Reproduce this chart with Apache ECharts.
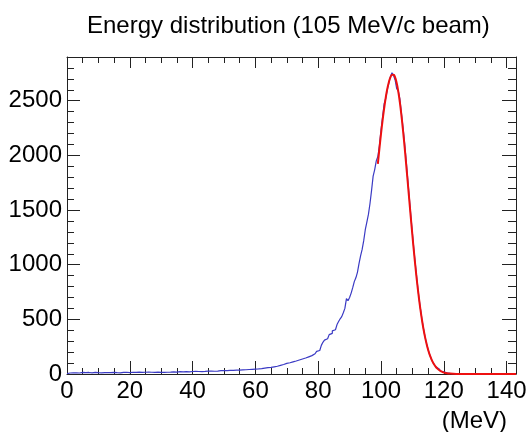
<!DOCTYPE html>
<html>
<head>
<meta charset="utf-8">
<script src="https://cdn.jsdelivr.net/npm/echarts@6/dist/echarts.min.js"></script>
<style>
html,body{margin:0;padding:0;background:#fff;}
#chart{width:531px;height:432px;}
</style>
</head>
<body>
<div id="chart"></div>
<script>
// Histogram: 0.5 MeV bins from 0 to 143 MeV
const xMin = 0;
const xMax = 143;
const binWidth = 0.5;
const counts = [
  // 0-10
  4, 9, 12, 10, 14, 11, 13, 9, 12, 15, 10, 13, 11, 14, 12, 10, 13, 15, 11, 12,
  // 10-20
  13, 11, 14, 12, 10, 13, 15, 12, 11, 14, 13, 12, 15, 11, 13, 14, 12, 16, 13, 12,
  // 20-30
  14, 16, 13, 15, 12, 17, 14, 15, 13, 16, 15, 17, 14, 16, 18, 15, 14, 17, 16, 15,
  // 30-40
  17, 15, 18, 16, 19, 17, 16, 20, 18, 17, 19, 21, 18, 20, 19, 22, 20, 19, 21, 23,
  // 40-50
  21, 24, 22, 23, 25, 22, 26, 24, 25, 27, 24, 26, 28, 25, 29, 27, 28, 30, 27, 31,
  // 50-60
  29, 31, 30, 33, 31, 34, 32, 35, 33, 36, 35, 38, 36, 39, 38, 41, 40, 43, 42, 45,
  // 60-70
  45, 47, 48, 50, 52, 54, 55, 58, 60, 61, 63, 66, 68, 71, 75, 79, 83, 87, 92, 97,
  // 70-80
  100, 103, 108, 111, 116, 119, 124, 128, 133, 137, 141, 146, 152, 157, 163, 168, 176, 185, 196, 207,
  // 80-90
  215, 230, 262, 290, 310, 322, 338, 360, 372, 395, 405, 420, 452, 480, 505, 525, 560, 600, 690, 670,
  // 90-100
  700, 740, 790, 845, 880, 930, 1010, 1080, 1140, 1220, 1320, 1390, 1460, 1560, 1680, 1810, 1870, 1950, 1990, 2090,
  // 100-110
  2230, 2350, 2470, 2520, 2600, 2660, 2720, 2755, 2730, 2690, 2610, 2590, 2520, 2390, 2260, 2120, 1960, 1790, 1620, 1450,
  // 110-120
  1290, 1130, 990, 850, 720, 610, 510, 420, 345, 280, 225, 178, 140, 108, 84, 63, 48, 36, 26, 19,
  // 120-130
  14, 10, 7, 5, 4, 3, 2, 2, 1, 1, 0, 0, 0, 0, 0, 0, 0, 0, 0, 0,
  // 130-140
  0, 0, 0, 0, 0, 0, 0, 0, 0, 0, 0, 0, 0, 0, 0, 0, 0, 0, 0, 0,
  // 140-143
  0, 0, 0, 0, 0, 0
];

// Fit curve (red)
const fitX = [99, 99.5, 100, 100.5, 101, 101.5, 102, 102.5, 103, 103.5, 104, 104.5, 105, 105.5, 106, 106.5,
  107, 107.5, 108, 108.5, 109, 109.5, 110, 110.5, 111, 111.5, 112, 112.5, 113, 113.5, 114, 114.5, 115, 115.5,
  116, 116.5, 117, 117.5, 118, 118.5, 119, 119.5, 120, 121, 122, 124, 126, 143];
const fitY = [1923, 2062, 2194, 2318, 2428, 2526, 2607, 2670, 2713, 2736, 2738, 2713, 2662, 2586, 2487, 2368,
  2233, 2084, 1925, 1761, 1595, 1431, 1270, 1117, 972, 837, 714, 603, 504, 417, 342, 278, 223, 177,
  140, 109, 84, 64, 49, 36, 27, 20, 14, 7, 4, 1, 0, 0];

const yMin = 0;
const yMax = 2900;
const yMajor = 500;
const yMinor = 100;
const xMajor = 20;
const xMinor = 5;

const titleText = 'Energy distribution (105 MeV/c beam)';
const xUnit = '(MeV)';

const FONT = 'Liberation Sans';
const FRAME = '#222';
const CLEAR = 'rgba(0,0,0,0)';

const histData = counts.map((c, i) => [xMin + i * binWidth, c]);
histData.push([xMax, counts[counts.length - 1]]);
const fitData = fitX.map((x, i) => [x, fitY[i]]);

function xAx(pos, interval, len, labels, line) {
  return {
    type: 'value', position: pos, min: xMin, max: xMax, interval: interval,
    axisLine: { show: true, onZero: false, lineStyle: { color: line ? FRAME : CLEAR } },
    axisTick: { show: true, inside: true, length: len, lineStyle: { color: FRAME } },
    axisLabel: labels ? { show: true, showMaxLabel: false, margin: 5, color: '#000', fontSize: 24, fontFamily: FONT } : { show: false },
    splitLine: { show: false }
  };
}
function yAx(pos, interval, len, labels, line) {
  return {
    type: 'value', position: pos, min: yMin, max: yMax, interval: interval,
    axisLine: { show: true, onZero: false, lineStyle: { color: line ? FRAME : CLEAR } },
    axisTick: { show: true, inside: true, length: len, lineStyle: { color: FRAME } },
    axisLabel: labels ? { show: true, showMaxLabel: false, margin: 5, color: '#000', fontSize: 24, fontFamily: FONT, formatter: function (v) { return String(v); } } : { show: false },
    splitLine: { show: false }
  };
}

const chart = echarts.init(document.getElementById('chart'), null, { renderer: 'canvas' });
chart.setOption({
  animation: false,
  backgroundColor: '#fff',
  title: {
    text: titleText, left: 82, top: 9,
    textStyle: { fontSize: 24, fontWeight: 'normal', color: '#000', fontFamily: FONT }
  },
  grid: { left: 67, right: 15, top: 57, bottom: 58 },
  xAxis: [
    xAx('bottom', xMajor, 13, true, true),
    xAx('bottom', xMinor, 6, false, false),
    xAx('top', xMajor, 11, false, true),
    xAx('top', xMinor, 6, false, false)
  ],
  yAxis: [
    yAx('left', yMajor, 13, true, true),
    yAx('left', yMinor, 7, false, false),
    yAx('right', yMajor, 14, false, true),
    yAx('right', yMinor, 8, false, false)
  ],
  graphic: [{
    type: 'text', x: 507, y: 421,
    style: { text: xUnit, fill: '#000', font: '24px "' + FONT + '"', align: 'right', verticalAlign: 'middle' }
  }],
  series: [
    {
      type: 'line', xAxisIndex: 0, yAxisIndex: 0, data: histData, step: 'end',
      symbol: 'none', lineStyle: { color: '#3a3ac4', width: 1.2 }, z: 2
    },
    {
      type: 'line', xAxisIndex: 0, yAxisIndex: 0, data: fitData, smooth: true,
      symbol: 'none', lineStyle: { color: '#ee1010', width: 2 }, z: 3
    }
  ]
});
</script>
</body>
</html>
